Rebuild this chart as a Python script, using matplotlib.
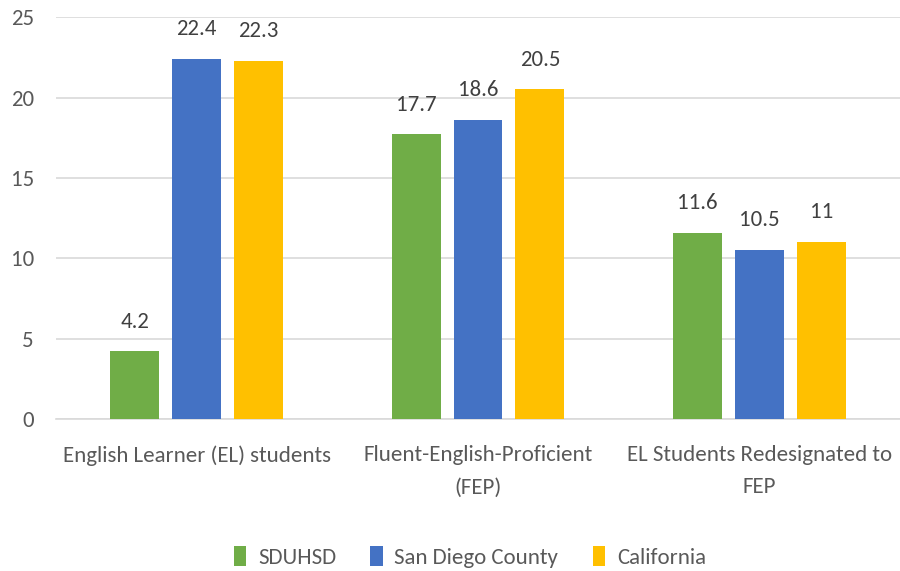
import matplotlib
matplotlib.use("Agg")
import matplotlib.pyplot as plt
import numpy as np
from matplotlib.patches import Patch

categories = ["English Learner (EL) students", "Fluent-English-Proficient\n(FEP)", "EL Students Redesignated to\nFEP"]
series_names = ["SDUHSD", "San Diego County", "California"]
sduhsd = [4.2, 17.7, 11.6]
sandiego = [22.4, 18.6, 10.5]
california = [22.3, 20.5, 11]
value_labels = [["4.2", "17.7", "11.6"], ["22.4", "18.6", "10.5"], ["22.3", "20.5", "11"]]
yticks = [0, 5, 10, 15, 20, 25]

colors = ["#70AD47", "#4472C4", "#FFC000"]
plt.rcParams['font.family'] = ['Carlito', 'DejaVu Sans']
txt = "#595959"
FS = 16.5

fig = plt.figure(figsize=(9, 5.71), dpi=100)
ax = fig.add_axes([0.0622, 0.2662, 0.9378, 0.7038])

x = np.arange(len(categories))
w = 0.174
off = 0.22
for i, vals in enumerate([sduhsd, sandiego, california]):
    pos = x + (i - 1) * off
    ax.bar(pos, vals, width=w, color=colors[i], zorder=3)
    for p, v, lab in zip(pos, vals, value_labels[i]):
        ax.annotate(lab, (p, v), xytext=(0, 21.5), textcoords="offset points",
                    ha="center", va="center", fontsize=FS, color="#404040")

ax.set_xlim(-0.5, 2.5)
ax.set_ylim(0, 25)
ax.set_yticks(yticks)
ax.set_yticklabels([str(t) for t in yticks], fontsize=FS, color=txt)
ax.set_xticks(x)
ax.set_xticklabels(categories, fontsize=FS, color=txt, linespacing=1.75)
ax.tick_params(axis='both', length=0)
ax.tick_params(axis='y', pad=16)
ax.tick_params(axis='x', pad=19)
for sp in ["top", "right", "left"]:
    ax.spines[sp].set_visible(False)
ax.spines["bottom"].set_color("#D9D9D9")
ax.spines["bottom"].set_linewidth(1.2)
ax.yaxis.grid(True, color="#D9D9D9", linewidth=1.2, zorder=0)
ax.set_axisbelow(True)

handles = [Patch(facecolor=c, edgecolor='none') for c in colors]
fig.legend(handles, series_names, loc="center", bbox_to_anchor=(0.522, 0.025), ncol=3,
           frameon=False, fontsize=FS, labelcolor=txt, handlelength=0.55, handleheight=1.0,
           handletextpad=0.5, columnspacing=1.5)

fig.savefig("out.png", dpi=100)
